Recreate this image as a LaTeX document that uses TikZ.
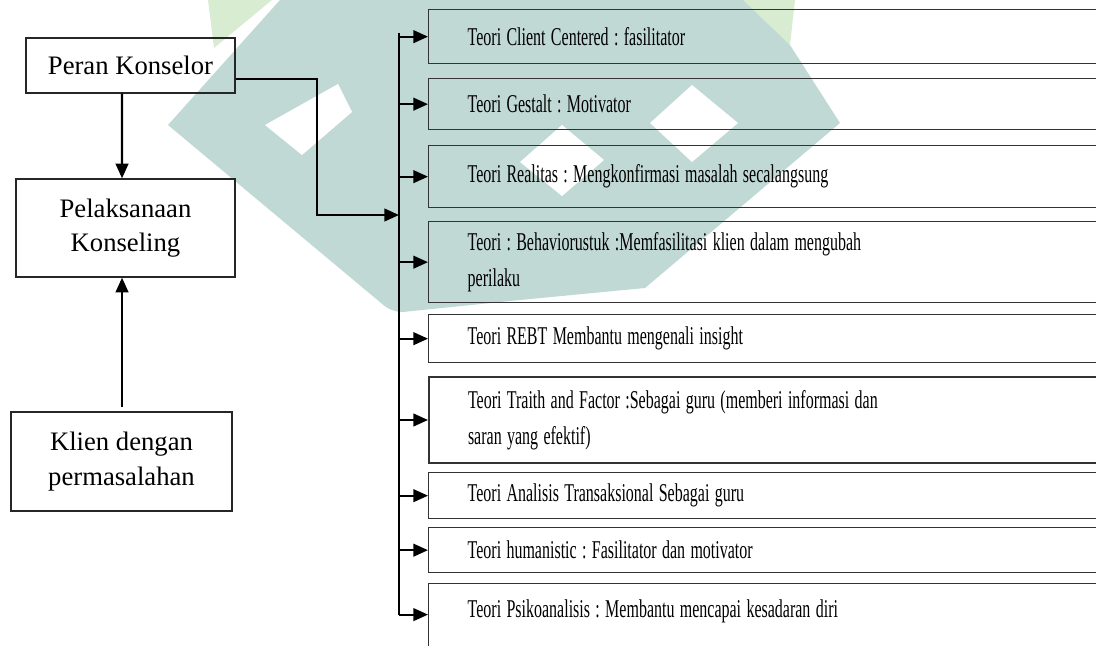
\documentclass[tikz,border=0pt]{standalone}
\usepackage{fontspec}
\setmainfont{Liberation Serif}
\usepackage{graphicx}
\usetikzlibrary{arrows.meta, positioning, calc}

\definecolor{wmteal}{RGB}{193,217,212}
\definecolor{wmgreen}{RGB}{216,236,210}

% stretched line of text, as in the scanned page
\newcommand{\tline}[1]{\scalebox{1}[1.6]{#1}}

\frenchspacing

\begin{document}
\begin{tikzpicture}[
    x=0.75pt, y=-0.75pt,
    >={Triangle[length=11pt, width=9.5pt]},
    font=\fontsize{12}{27}\selectfont,
    sidebox/.style ={draw=black!85, line width=1pt, align=center,
                     font=\fontsize{20}{26}\selectfont, inner sep=0pt},
    theory/.style  ={draw=black!80, line width=1pt, anchor=north west,
                     align=left, text width=445.5pt, inner xsep=29.25pt,
                     inner ysep=0pt},
    flow/.style    ={->, line width=1.6pt},
    bus/.style     ={line width=1pt},
    wmark/.style   ={fill=wmteal, draw=none}
]
\useasboundingbox (0,0) rectangle (1096,646);

% =================== Watermark (background) ===================
\fill[wmgreen] (208,0) -- (272,0) -- (214,48) -- cycle;
\fill[wmgreen] (743,0) -- (795,0) -- (790,45) -- cycle;
\fill[wmark] (280,0) -- (743,0) -- (790,45) -- (840,123)
    -- (645,288) -- (520,300) [rounded corners=8pt] -- (393,313)
    [sharp corners] -- (168,125) -- cycle;
\fill[white] (265,125) -- (338,84) -- (352,112) -- (302,155) -- cycle;
\fill[white] (520,162) -- (562,125) -- (604,160) -- (562,196) -- cycle;
\fill[white] (650,123) -- (692,85) -- (738,123) -- (692,162) -- cycle;

% =================== Left column ===================
\node[sidebox, minimum width=156.75pt, minimum height=41.25pt] (peran)
    at (130.5,65.5) {Peran Konselor};
\node[sidebox, minimum width=164.25pt, minimum height=73.5pt] (pelaks)
    at (125.5,228) {Pelaksanaan\\Konseling};
\node[sidebox, minimum width=165.75pt, minimum height=74.25pt] (klien)
    at (121.5,461.5) {Klien dengan\\permasalahan};

% =================== Theories (right column) ===================
\node[theory, minimum height=40.5pt] (t1) at (428,9)
    {\tline{Teori Client Centered : fasilitator}};
\node[theory, minimum height=38.25pt] (t2) at (428,78)
    {\tline{Teori Gestalt : Motivator}};
\node[theory, minimum height=46.5pt] (t3) at (428,145)
    {\tline{Teori Realitas : Mengkonfirmasi masalah secalangsung}};
\node[theory, minimum height=60.75pt] (t4) at (428,221)
    {\tline{Teori : Behaviorustuk :Memfasilitasi klien dalam mengubah}\\
     \tline{perilaku}};
\node[theory, minimum height=36pt] (t5) at (428,314)
    {\tline{Teori REBT Membantu mengenali insight}};
\node[theory, minimum height=64.5pt, line width=1.5pt] (t6) at (428,376)
    {\tline{Teori Traith and Factor :Sebagai guru (memberi informasi dan}\\
     \tline{saran yang efektif)}};
\node[theory, minimum height=34.5pt] (t7) at (428,472)
    {\tline{Teori Analisis Transaksional Sebagai guru}};
\node[theory, minimum height=33.75pt] (t8) at (428,527)
    {\tline{Teori humanistic : Fasilitator dan motivator}};
\node[theory, text height=25.5pt, text depth=47pt] (t9) at (428,583)
    {\tline{Teori Psikoanalisis : Membantu mencapai kesadaran diri}};

\coordinate (busx) at (399,0);
\coordinate (busjoin) at (399,215);

% --- Arrows ---

% left column
\draw[flow] ([xshift=-6.4pt]peran.south) -- ([xshift=-2.6pt]pelaks.north);
\draw[flow] ([xshift=0.4pt, yshift=3pt]klien.north) -- ([xshift=-2.6pt]pelaks.south);

% Peran Konselor -> theories
\draw[flow] ([yshift=-10.1pt]peran.east) -- ++(81,0) |- (busjoin);

% bus and branches
\draw[bus] ([yshift=3pt]t1.west -| busx) -- (t9.mid west -| busx);
\draw[flow] (t1.west -| busx) -- (t1.west);
\draw[flow] (t2.west -| busx) -- (t2.west);
\draw[flow] (t3.west -| busx) -- (t3.west);
\draw[flow] (t4.west -| busx) -- (t4.west);
\draw[flow] (t5.west -| busx) -- (t5.west);
\draw[flow] (t6.west -| busx) -- (t6.west);
\draw[flow] (t7.west -| busx) -- (t7.west);
\draw[flow] (t8.west -| busx) -- (t8.west);
\draw[flow] (t9.mid west -| busx) -- (t9.mid west);

\end{tikzpicture}
\end{document}
